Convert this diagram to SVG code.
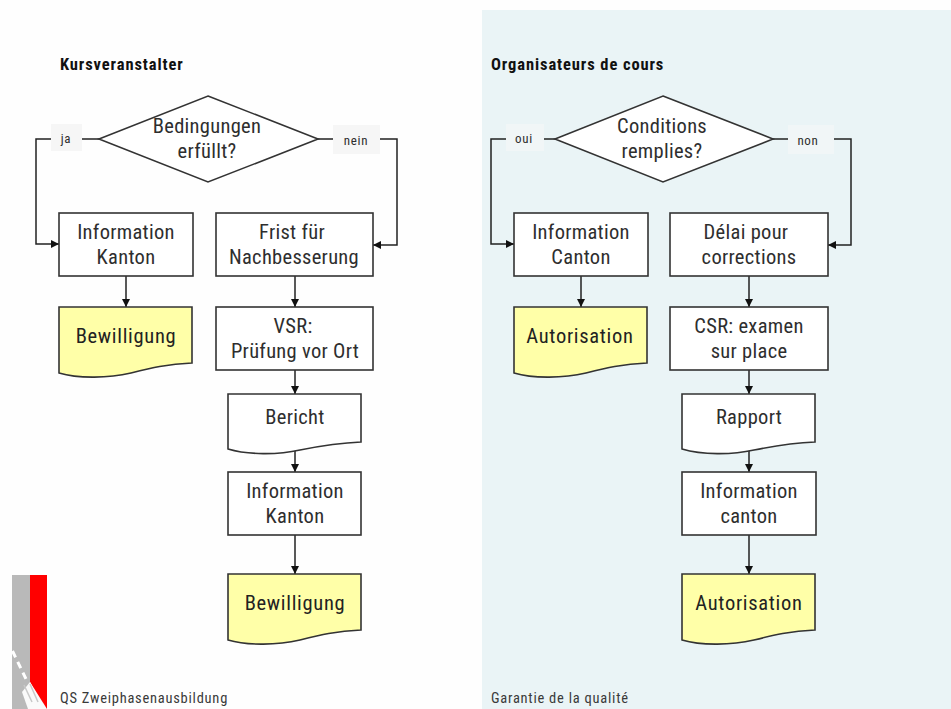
<svg xmlns="http://www.w3.org/2000/svg" width="951" height="709" viewBox="0 0 951 709">
<style>
text{font-family:"Roboto Condensed","Liberation Sans Narrow","Liberation Sans",Arial,sans-serif;fill:#2e2e2e;text-anchor:middle}
.n{font-size:20.5px;letter-spacing:.3px}
.w{font-size:20.5px;letter-spacing:.7px;fill:#222}
.h{font-size:16.5px;font-weight:bold;letter-spacing:.9px;text-anchor:start;fill:#111}
.s{font-size:13px;letter-spacing:.7px}
.f{font-size:14.5px;letter-spacing:.75px;text-anchor:start;fill:#3a3a3a}
.b{fill:#fff;stroke:#333;stroke-width:1.6}
.y{fill:#ffffa8;stroke:#333;stroke-width:1.6}
.c{fill:none;stroke:#222;stroke-width:1.5}
.l{fill:#f6f6f6}
.m{fill:#f1f6f7}
</style>
<defs>
<marker id="a" markerUnits="userSpaceOnUse" markerWidth="10" markerHeight="10" refX="8" refY="4" orient="auto"><path d="M0 0L8 4L0 8Z" fill="#111"/></marker>
<path id="d" d="M0 0H133V56C108 57 92 61 72 66C50 71 20 72 0 66Z"/>
<path id="e" d="M0 0H133V48C108 49 92 52 72 56C50 61 20 61 0 55Z"/>
</defs>
<rect width="951" height="709" fill="#fefefe"/>
<rect x="482" y="10" width="469" height="699" fill="#eaf4f6"/>
<g id="brand">
<rect x="12" y="575" width="18" height="134" fill="#b9b9b9"/>
<path d="M30 575H47V709H45L30 682Z" fill="#f00"/>
<path d="M30 682L47 709H28L22 692Z" fill="#fafafa"/>
<path d="M12.500 651L26 679" stroke="#fff" stroke-width="3" stroke-dasharray="7 5" fill="none"/>
<path d="M24 685L32 702M30 684L38 702" stroke="#c9c9c9" stroke-width="1.500" fill="none"/>
</g>
<text class="h" x="60" y="69.500">Kursveranstalter</text>
<text class="h" x="491" y="69.500">Organisateurs de cours</text>
<text class="f" x="60" y="703">QS Zweiphasenausbildung</text>
<text class="f" x="491" y="703">Garantie de la qualité</text>
<g id="connectors">
<path class="c" d="M99 139H36V244H59" marker-end="url(#a)"/>
<path class="c" d="M318 139H397V245H373" marker-end="url(#a)"/>
<path class="c" d="M126 276V307" marker-end="url(#a)"/>
<path class="c" d="M295 276V307" marker-end="url(#a)"/>
<path class="c" d="M295 370V394" marker-end="url(#a)"/>
<path class="c" d="M295 450V472" marker-end="url(#a)"/>
<path class="c" d="M295 535V574" marker-end="url(#a)"/>
<path class="c" d="M555 139H491V244H514" marker-end="url(#a)"/>
<path class="c" d="M773 139H851V245H828" marker-end="url(#a)"/>
<path class="c" d="M581 276V307" marker-end="url(#a)"/>
<path class="c" d="M749 276V307" marker-end="url(#a)"/>
<path class="c" d="M749 370V394" marker-end="url(#a)"/>
<path class="c" d="M749 450V472" marker-end="url(#a)"/>
<path class="c" d="M749 535V574" marker-end="url(#a)"/>
</g>
<g id="label-ja"><rect class="l" x="51" y="124" width="31" height="27"/><text class="s" x="66" y="143">ja</text></g>
<g id="label-nein"><rect class="l" x="333" y="125" width="47" height="29"/><text class="s" x="356" y="145">nein</text></g>
<g id="label-oui"><rect class="m" x="506" y="124" width="38" height="27"/><text class="s" x="524" y="143">oui</text></g>
<g id="label-non"><rect class="m" x="788" y="125" width="46" height="29"/><text class="s" x="808" y="145">non</text></g>
<g id="q1"><path class="b" d="M208 96L318 139L208 182L99 139Z"/><text class="n" x="207" y="133">Bedingungen</text><text class="n" x="207" y="158">erfüllt?</text></g>
<g id="n1"><rect class="b" x="59" y="213" width="134" height="63"/><text class="n" x="126" y="239">Information</text><text class="n" x="126" y="264">Kanton</text></g>
<g id="n2"><rect class="b" x="216" y="213" width="157" height="63"/><text class="n" x="292" y="239">Frist für</text><text class="n" x="294" y="264">Nachbesserung</text></g>
<g id="n3"><use href="#d" x="59" y="307" class="y"/><text class="w" x="126" y="343">Bewilligung</text></g>
<g id="n4"><rect class="b" x="216" y="307" width="157" height="63"/><text class="n" x="293" y="333">VSR:</text><text class="n" x="295" y="358">Prüfung vor Ort</text></g>
<g id="n5"><use href="#e" x="228" y="394" class="b"/><text class="n" x="295" y="424">Bericht</text></g>
<g id="n6"><rect class="b" x="228" y="472" width="133" height="63"/><text class="n" x="295" y="498">Information</text><text class="n" x="295" y="523">Kanton</text></g>
<g id="n7"><use href="#d" x="228" y="574" class="y"/><text class="w" x="295" y="610">Bewilligung</text></g>
<g id="q2"><path class="b" d="M663 96L773 139L663 182L555 139Z"/><text class="n" x="662" y="133">Conditions</text><text class="n" x="662" y="158">remplies?</text></g>
<g id="n8"><rect class="b" x="514" y="213" width="134" height="63"/><text class="n" x="581" y="239">Information</text><text class="n" x="581" y="264">Canton</text></g>
<g id="n9"><rect class="b" x="670" y="213" width="158" height="63"/><text class="n" x="746" y="239">Délai pour</text><text class="n" x="749" y="264">corrections</text></g>
<g id="n10"><use href="#d" x="514" y="307" class="y"/><text class="w" x="580" y="343">Autorisation</text></g>
<g id="n11"><rect class="b" x="670" y="307" width="158" height="63"/><text class="n" x="749" y="333">CSR: examen</text><text class="n" x="749" y="358">sur place</text></g>
<g id="n12"><use href="#e" x="682" y="394" class="b"/><text class="n" x="749" y="424">Rapport</text></g>
<g id="n13"><rect class="b" x="682" y="472" width="134" height="63"/><text class="n" x="749" y="498">Information</text><text class="n" x="749" y="523">canton</text></g>
<g id="n14"><use href="#d" x="682" y="574" class="y"/><text class="w" x="749" y="610">Autorisation</text></g>
</svg>
